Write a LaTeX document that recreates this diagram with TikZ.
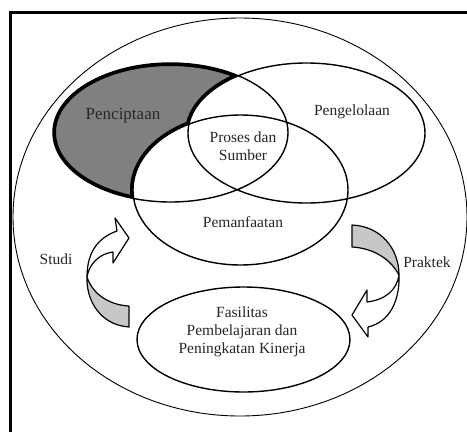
\documentclass[tikz,border=0pt]{standalone}
\usepackage{fontspec}
\setmainfont{Liberation Serif}
\newcommand\pencipta{(170.5,132.5) ellipse [x radius=117.5pt, y radius=69.5pt]}
\newcommand\pengelola{(306.5,133) ellipse [x radius=118.5pt, y radius=70pt]}
\newcommand\pemanfaat{(240.5,190) ellipse [x radius=107.5pt, y radius=75pt]}
\newcommand\fasilitas{(243.5,339.5) ellipse [x radius=106.5pt, y radius=52.5pt]}
\tikzset{
  venn/.style={line width=1.4pt},
  venntext/.style={font=\fontsize{15.5}{18}\selectfont, align=center, inner sep=0pt, text=black!85},
  ribbon/.style={draw, line width=1.2pt, line join=round, fill=white},
  ribbonback/.style={ribbon, fill=black!22}
}
\begin{document}
\begin{tikzpicture}[x=1pt,y=-1pt]
  \useasboundingbox (0,0) rectangle (467,432);
  \draw[line width=3pt] (10,432) -- (10,12) -- (467,12);
  \draw[line width=0.9pt] (240,217) ellipse [x radius=227pt, y radius=199pt];

  \begin{scope}
    \clip \pencipta;
    \fill[black!50] \pencipta;
    \draw[line width=6pt] \pencipta \pengelola \pemanfaat;
    \fill[white] \pengelola \pemanfaat;
  \end{scope}
  \draw[venn] \pencipta \pengelola \pemanfaat \fasilitas;

  \draw[ribbonback] (87,277) .. controls (93,295) and (110,305) .. (129,306) -- (129,327) .. controls (100,325) and (86,300) .. (87,277) -- cycle;
  \draw[ribbon] (87,277) .. controls (87,250) and (100,237) .. (117,231) -- (115,218) -- (129,238) -- (113,263) -- (113,252) .. controls (98,254) and (89,265) .. (87,277) -- cycle;
  \draw[ribbonback] (352,225) .. controls (380,226) and (399,248) .. (399,275) .. controls (390,258) and (372,248) .. (352,247) -- cycle;
  \draw[ribbon] (399,275) .. controls (400,300) and (390,322) .. (368,327) -- (368,337) -- (352,315) -- (367,290) -- (367,302) .. controls (385,300) and (397,290) .. (399,275) -- cycle;

  \node[venntext, font=\fontsize{17}{20}\selectfont] (penciptaan) at (123,116) {Penciptaan};
  \node[venntext] (pengelolaan) at (352,112) {Pengelolaan};
  \node[venntext] (proses) at (243,146) {Proses dan\\Sumber};
  \node[venntext] (pemanfaatan) at (243,222) {Pemanfaatan};
  \node[venntext] (fasilitasPembelajaran) at (242,332) {Fasilitas\\Pembelajaran dan\\Peningkatan Kinerja};
  \node[venntext] (studi) at (56,259) {Studi};
  \node[venntext] (praktek) at (427,262) {Praktek};
\end{tikzpicture}
\end{document}
